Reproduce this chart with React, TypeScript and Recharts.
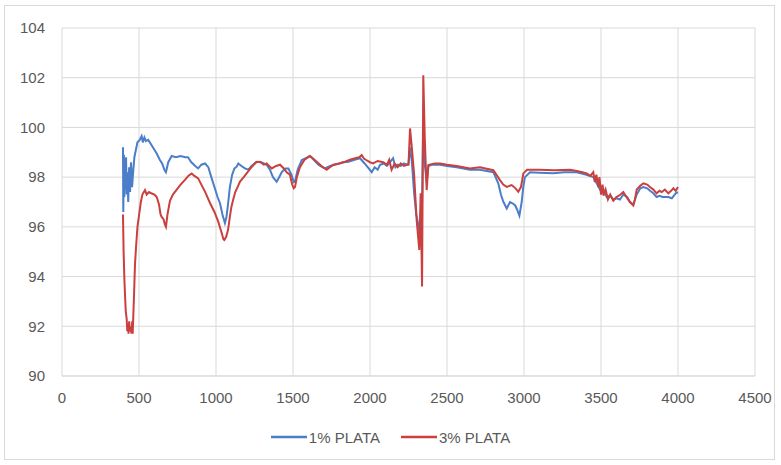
import React from "react";
import { LineChart, Line, XAxis, YAxis, CartesianGrid, Legend } from "recharts";

const xTicks = [0, 500, 1000, 1500, 2000, 2500, 3000, 3500, 4000, 4500];
const yTicks = [90, 92, 94, 96, 98, 100, 102, 104];

const seriesNames = ["1% PLATA", "3% PLATA"];

const x1 = [396,398,402,405,408,412,416,420,425,430,436,442,448,455,462,470,480,490,505,517,525,535,545,560,580,600,615,635,650,665,675,690,712,740,770,800,818,840,865,884,905,929,950,972,995,1010,1026,1042,1058,1068,1078,1090,1105,1120,1134,1145,1165,1188,1210,1231,1260,1286,1310,1329,1350,1370,1394,1410,1427,1450,1470,1490,1505,1513,1530,1557,1580,1610,1635,1665,1690,1708,1741,1770,1800,1827,1860,1900,1935,1965,1985,2011,2030,2050,2065,2090,2110,2130,2150,2165,2180,2200,2220,2240,2250,2260,2272,2286,2300,2314,2322,2330,2338,2346,2356,2368,2379,2400,2455,2500,2563,2649,2714,2801,2833,2850,2866,2888,2909,2925,2942,2955,2970,2985,2995,3006,3039,3100,3190,3260,3342,3400,3450,3494,3510,3537,3560,3580,3600,3623,3645,3670,3688,3710,3732,3755,3775,3800,3818,3840,3861,3880,3900,3937,3960,3985,4000];
const y1 = [99.2,96.6,98.9,97.2,98.6,97.5,98.8,97.3,98.2,97.0,98.4,97.4,98.6,97.6,98.2,98.8,99.1,99.4,99.5,99.65,99.4,99.6,99.45,99.5,99.3,99.1,98.95,98.7,98.55,98.3,98.2,98.6,98.85,98.8,98.85,98.8,98.8,98.6,98.45,98.35,98.5,98.55,98.4,97.95,97.5,97.2,96.95,96.5,96.15,96.4,96.9,97.6,98.1,98.35,98.42,98.55,98.45,98.35,98.3,98.45,98.6,98.62,98.55,98.5,98.3,98.0,97.82,98.0,98.2,98.35,98.35,98.1,97.8,97.82,98.3,98.69,98.75,98.85,98.7,98.5,98.4,98.35,98.45,98.5,98.55,98.6,98.62,98.7,98.76,98.55,98.4,98.2,98.4,98.3,98.5,98.55,98.45,98.6,98.76,98.4,98.5,98.45,98.55,98.5,98.55,99.2,98.6,97.4,96.5,96.1,95.8,96.6,97.0,100.3,98.5,97.8,98.45,98.5,98.5,98.45,98.4,98.3,98.3,98.2,97.75,97.3,97.01,96.74,97.0,96.95,96.87,96.7,96.45,97.0,97.6,98.0,98.2,98.18,98.16,98.2,98.2,98.1,98.0,97.5,97.6,97.2,97.25,97.1,97.15,97.1,97.3,97.2,97.0,96.9,97.3,97.55,97.6,97.55,97.45,97.35,97.2,97.25,97.2,97.2,97.15,97.35,97.4];

const x3 = [396,400,405,409,414,420,424,428,432,436,441,446,451,456,459,464,468,474,482,490,502,512,522,539,550,565,580,600,615,630,640,647,660,668,675,685,701,720,745,770,800,820,842,860,884,905,930,961,990,1015,1037,1048,1054,1066,1078,1090,1100,1111,1125,1140,1156,1180,1199,1230,1264,1290,1310,1329,1345,1362,1390,1416,1440,1459,1480,1495,1505,1513,1525,1545,1575,1610,1630,1654,1685,1719,1740,1762,1800,1838,1870,1903,1930,1946,1960,1975,2000,2020,2050,2086,2110,2125,2140,2160,2180,2200,2220,2240,2250,2260,2270,2286,2303,2320,2329,2338,2346,2356,2368,2379,2420,2455,2500,2563,2649,2714,2801,2844,2865,2888,2920,2945,2963,2980,2996,3020,3100,3200,3300,3342,3380,3407,3430,3450,3460,3470,3483,3490,3500,3510,3516,3530,3545,3560,3580,3600,3623,3645,3665,3688,3710,3720,3732,3755,3775,3800,3818,3840,3861,3880,3894,3915,3937,3955,3970,3985,4000];
const y3 = [96.5,95.0,93.9,93.3,92.6,92.3,91.8,92.1,91.7,92.2,91.8,92.0,91.7,92.2,91.7,92.6,93.3,94.5,95.3,96.0,96.55,97.0,97.3,97.48,97.3,97.4,97.35,97.3,97.2,96.9,96.5,96.4,96.3,96.1,96.0,96.5,97.05,97.3,97.5,97.7,97.9,98.05,98.15,98.05,97.95,97.7,97.4,96.96,96.6,96.2,95.75,95.5,95.47,95.6,95.87,96.4,96.8,97.08,97.4,97.6,97.82,98.0,98.15,98.4,98.62,98.6,98.5,98.55,98.45,98.35,98.45,98.5,98.35,98.2,98.1,97.7,97.55,97.6,98.0,98.4,98.7,98.85,98.75,98.62,98.45,98.3,98.4,98.5,98.55,98.62,98.7,98.76,98.8,98.89,98.75,98.69,98.6,98.55,98.65,98.6,98.5,98.7,98.3,98.55,98.4,98.55,98.45,98.5,98.5,99.96,99.3,98.15,96.27,95.07,97.35,93.6,102.1,99.5,97.48,98.49,98.55,98.55,98.5,98.45,98.35,98.4,98.28,97.88,97.7,97.61,97.68,97.55,97.41,97.6,98.15,98.3,98.3,98.28,98.3,98.25,98.2,98.15,98.05,98.2,97.8,98.1,97.6,98.0,97.3,97.7,97.25,97.5,97.1,97.3,97.05,97.2,97.28,97.4,97.2,97.0,96.86,97.1,97.5,97.65,97.75,97.7,97.6,97.5,97.35,97.45,97.4,97.5,97.35,97.45,97.55,97.45,97.6];

const data1 = x1.map((x, i) => ({ x, y: y1[i] }));
const data3 = x3.map((x, i) => ({ x, y: y3[i] }));

const FONT = "'Liberation Sans', Arial, sans-serif";

const LegendContent = (props: any) => {
  const payload = props.payload || [];
  return (
    <div style={{ display: "flex", justifyContent: "center", alignItems: "center", height: 34, paddingLeft: 26, boxSizing: "border-box", fontFamily: FONT, fontSize: 15, color: "#595959" }}>
      {payload.map((p: any, i: number) => (
        <div key={i} style={{ display: "flex", alignItems: "center", marginLeft: i === 0 ? 0 : 21 }}>
          <svg width={36} height={10} style={{ display: "block" }}>
            <line x1={0} y1={5} x2={36} y2={5} stroke={p.color} strokeWidth={2.5} />
          </svg>
          <span style={{ marginLeft: 2 }}>{p.value}</span>
        </div>
      ))}
    </div>
  );
};

export default function App() {
  return (
    <div style={{ position: "absolute", left: 0, top: 0, width: 781, height: 465, background: "#fff" }}>
      <div style={{ position: "absolute", left: 4, top: 5, width: 771, height: 455, border: "1px solid #d9d9d9", boxSizing: "border-box" }} />
      <LineChart
        width={781}
        height={465}
        margin={{ top: 28, right: 26, left: 0, bottom: 25 }}
        style={{ fontFamily: FONT }}
      >
        <CartesianGrid stroke="#d9d9d9" strokeWidth={1} />
        <XAxis
          type="number"
          dataKey="x"
          domain={[0, 4500]}
          ticks={xTicks}
          allowDataOverflow
          height={30}
          tickSize={0}
          tickMargin={16}
          axisLine={{ stroke: "#d9d9d9" }}
          tick={{ fill: "#595959", fontSize: 15, fontFamily: FONT }}
        />
        <YAxis
          type="number"
          domain={[90, 104]}
          ticks={yTicks}
          width={62}
          tickSize={0}
          tickMargin={17}
          axisLine={false}
          tick={{ fill: "#595959", fontSize: 15, fontFamily: FONT }}
        />
        <Legend
          verticalAlign="bottom"
          content={<LegendContent />}
          wrapperStyle={{ bottom: 11, height: 34 }}
        />
        <Line
          data={data1}
          dataKey="y"
          name={seriesNames[0]}
          type="linear"
          stroke="#4A7EC9"
          strokeWidth={2}
          dot={false}
          isAnimationActive={false}
        />
        <Line
          data={data3}
          dataKey="y"
          name={seriesNames[1]}
          type="linear"
          stroke="#C9403E"
          strokeWidth={2}
          dot={false}
          isAnimationActive={false}
        />
      </LineChart>
    </div>
  );
}
